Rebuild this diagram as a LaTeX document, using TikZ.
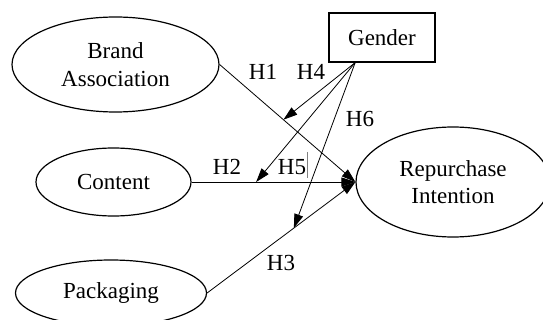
\documentclass[tikz,border=0pt]{standalone}
\usepackage{fontspec}
\setmainfont{Liberation Serif}
\usetikzlibrary{shapes.geometric,arrows.meta,calc}
\begin{document}
\begin{tikzpicture}[x=1pt,y=-1pt,
  every node/.style={font=\fontsize{23}{27.5}\selectfont},
  construct/.style={ellipse,draw,line width=1.2pt,inner sep=0pt,align=center},
  observed/.style={rectangle,draw,line width=1.2pt,inner sep=0pt},
  link/.style={line width=0.8pt,-{Triangle[length=14pt,width=9pt]}},
  hyp/.style={inner sep=0pt}]
\useasboundingbox (0,0) rectangle (543,320);
\node[construct,minimum width=207pt,minimum height=95pt] (brand) at (115.5,64.5) {Brand\\Association};
\node[construct,minimum width=155pt,minimum height=68pt] (content) at (113.5,182) {Content};
\node[construct,minimum width=191pt,minimum height=66pt] (pack) at (111,293) {Packaging};
\node[observed,minimum width=106pt,minimum height=49pt] (gender) at (382,37.5) {Gender};
\node[construct,minimum width=194pt,minimum height=110pt] (rep) at (453,182) {Repurchase\\Intention};
\draw[link] (brand.east) -- (rep.west);
\draw[link] (content.east) -- (rep.west);
\draw[link] (pack.east) -- (rep.west);
\coordinate (g) at ($(gender.south west)!0.25!(gender.south east)$);
\coordinate (t4) at ($(brand.east)!0.47!(rep.west)$);
\coordinate (t5) at ($(content.east)!0.394!(rep.west)$);
\coordinate (t6) at ($(pack.east)!0.585!(rep.west)$);
\draw[link] (g) -- (t4);
\draw[link] (g) -- (t5);
\draw[link] (g) -- (t6);
\node[hyp] (h1) at (263,72) {H1};
\node[hyp] (h4) at (311,72) {H4};
\node[hyp] (h6) at (360,119) {H6};
\node[hyp] (h2) at (227,167) {H2};
\node[hyp] (h5) at (292,167) {H5};
\node[hyp] (h3) at (281,263) {H3};
\coordinate (bar1) at (307,152);
\coordinate (bar2) at (307,178);
\draw[line width=0.4pt,gray] (bar1) -- (bar2);
\end{tikzpicture}
\end{document}
